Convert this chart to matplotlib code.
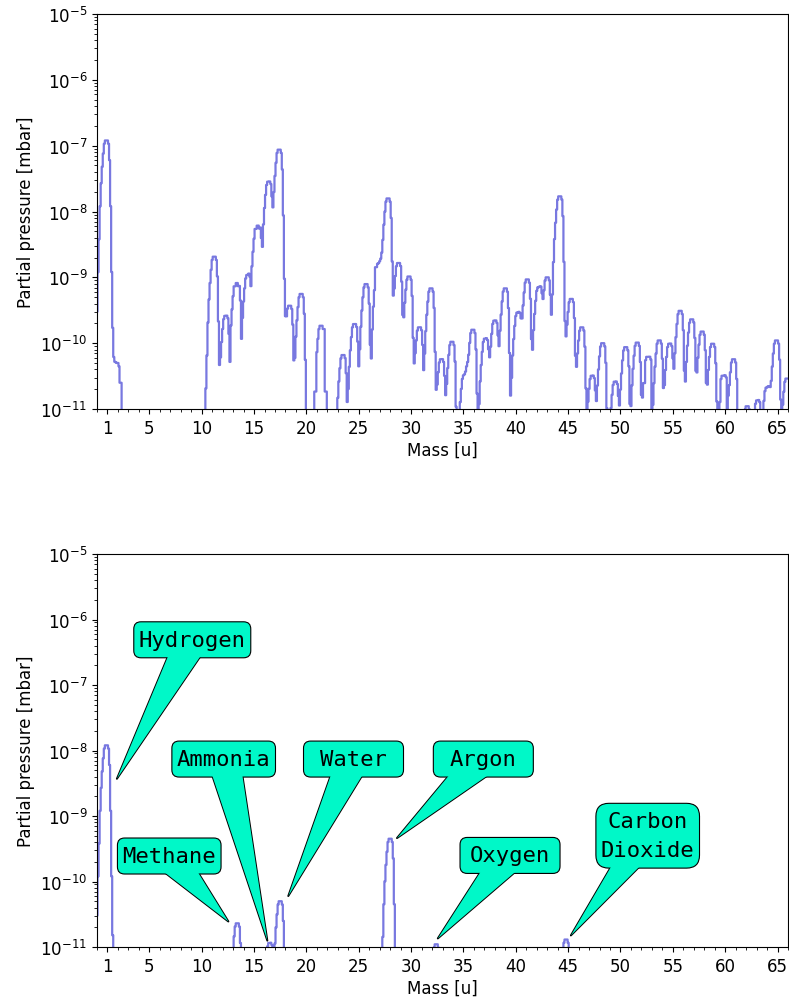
import numpy as np
import matplotlib
matplotlib.use("Agg")
import matplotlib.pyplot as plt
from matplotlib.ticker import FixedLocator, MultipleLocator, LogLocator, NullFormatter
from matplotlib.patches import FancyBboxPatch, FancyArrowPatch
from matplotlib.transforms import IdentityTransform

# ---------------- data ----------------
# survey scan: peak centre positions [u] and peak heights [mbar]
survey_centers = [0.9, 1.95, 11.2, 12.3, 13.35, 14.4, 15.35, 16.37, 17.4, 18.43,
                  19.5, 21.45, 23.5, 24.6, 25.67, 26.85, 27.8, 28.8, 29.8, 30.8,
                  31.86, 32.9, 33.9, 35.1, 35.9, 37.07, 38.0, 38.97, 40.17, 41.1,
                  42.24, 43.0, 44.24, 45.26, 46.3, 47.3, 48.3, 49.5, 50.5, 51.6,
                  52.65, 53.7, 54.7, 55.73, 56.8, 57.8, 58.8, 59.85, 60.8, 62.1,
                  63.1, 64.0, 64.9, 65.9]
survey_heights = [1.2e-7, 5e-11, 2.06e-9, 2.6e-10, 8.2e-10, 1.08e-9, 6.1e-9, 2.84e-8, 8.7e-8, 3.7e-10,
                  5.6e-10, 1.84e-10, 6.6e-11, 1.95e-10, 7.9e-10, 1.6e-9, 1.58e-8, 1.65e-9, 1.03e-9, 1.74e-10,
                  6.8e-10, 5.7e-11, 1.05e-10, 3.2e-11, 1.6e-10, 1.17e-10, 2.2e-10, 6.8e-10, 2.9e-10, 9.3e-10,
                  7e-10, 1e-9, 1.7e-8, 4.7e-10, 1.74e-10, 3.2e-11, 1.0e-10, 2.6e-11, 8.7e-11, 1.02e-10,
                  6.2e-11, 1.1e-10, 9.8e-11, 3.1e-10, 2.3e-10, 1.5e-10, 9.8e-11, 3.2e-11, 5.7e-11, 1.1e-11,
                  1.35e-11, 2.1e-11, 1.1e-10, 2.9e-11]

# identified gases
gas_names = ["Hydrogen", "Methane", "Ammonia", "Water", "Argon", "Oxygen", "Carbon\nDioxide"]
gas_centers = [0.9, 13.4, 16.5, 17.5, 28.0, 32.4, 44.8]
gas_heights = [1.2e-8, 2.3e-11, 1.15e-11, 5e-11, 4.5e-10, 1.1e-11, 1.3e-11]

# peak shape: log10 relative height at offsets -1.0 .. +0.9 u (0.1 u steps)
peak_profile_log = [-3.2, -2.6, -2.0, -1.5, -1.0, -0.65, -0.4, -0.2, -0.05, 0.0,
                    0.0, 0.0, -0.05, -0.3, -1.0, -2.0, -2.9, -3.6, -4.2, -5.0]
profile_zero_index = 10
scan_step = 0.1

mass_ticks = [1, 5, 10, 15, 20, 25, 30, 35, 40, 45, 50, 55, 60, 65]

# ---------------- build spectra ----------------
mass_grid = np.round(np.arange(0.0, 66.0 + 1e-9, scan_step), 1)


def spectrum(centers, heights):
    y = np.full(mass_grid.shape, 1e-15)
    prof = np.array(peak_profile_log)
    for c, h in zip(centers, heights):
        idx = np.rint((mass_grid - c) / scan_step).astype(int) + profile_zero_index
        ok = (idx >= 0) & (idx < len(prof))
        y[ok] += h * 10.0 ** prof[idx[ok]]
    return y


survey = spectrum(survey_centers, survey_heights)
gases = spectrum(gas_centers, gas_heights)

# ---------------- figure ----------------
W, H = 789, 1003
fig = plt.figure(figsize=(W / 100, H / 100), dpi=100)
line_color = "#7878e0"
box_fc = "#00f8c8"


def ax_rect(left, top, right, bottom):
    return [left / W, 1 - bottom / H, (right - left) / W, (bottom - top) / H]


ax1 = fig.add_axes(ax_rect(97, 15, 788, 410))
ax2 = fig.add_axes(ax_rect(97, 555, 788, 948))

for ax, y in ((ax1, survey), (ax2, gases)):
    ax.plot(mass_grid, y, drawstyle="steps-mid", color=line_color, lw=1.6)
    ax.set_yscale("log")
    ax.set_ylim(1e-11, 1e-5)
    ax.set_xlim(0, 66)
    ax.xaxis.set_major_locator(FixedLocator(mass_ticks))
    ax.xaxis.set_minor_locator(MultipleLocator(1))
    ax.yaxis.set_major_locator(LogLocator(base=10, numticks=20))
    ax.yaxis.set_minor_locator(LogLocator(base=10, subs=np.arange(2, 10), numticks=20))
    ax.yaxis.set_minor_formatter(NullFormatter())
    ax.tick_params(labelsize=12)
    ax.set_xlabel("Mass [u]", fontsize=12, labelpad=3)
    ax.set_ylabel("Partial pressure [mbar]", fontsize=12)

# annotations: label centre (data coords) and arrow tip (data coords)
label_pos = [(9.1, 4.9e-7), (6.9, 2.45e-10), (12.1, 7.4e-9), (24.5, 7.4e-9),
             (36.9, 7.4e-9), (39.45, 2.5e-10), (52.6, 5.0e-10)]
tip_pos = [(1.9, 3.7e-9), (12.55, 2.45e-11), (16.27, 1.25e-11), (18.27, 6.0e-11),
           (28.65, 4.6e-10), (32.55, 1.35e-11), (45.26, 1.5e-11)]

fig.canvas.draw()
renderer = fig.canvas.get_renderer()
ident = IdentityTransform()
hpad, vpad, min_w = 5, 8, 100
wedge = "wedge,tail_width=1.45"

for name, ctr, tip in zip(gas_names, label_pos, tip_pos):
    t = ax2.text(ctr[0], ctr[1], name, family="DejaVu Sans Mono", fontsize=16,
                 ha="center", va="center", linespacing=1.55, color="k", zorder=6)
    bb = t.get_window_extent(renderer)
    cx, cy = (bb.x0 + bb.x1) / 2, (bb.y0 + bb.y1) / 2
    w = max(bb.width + 2 * hpad, min_w)
    h = bb.height + 2 * vpad
    r = 0.2 * h
    tip_px = ax2.transData.transform(tip)
    # wedge outline (below the box)
    ax2.add_patch(FancyArrowPatch((cx, cy), tuple(tip_px), arrowstyle=wedge, mutation_scale=16,
                                  shrinkA=0, shrinkB=0, fc=box_fc, ec="k", lw=1.4,
                                  transform=ident, clip_on=False, zorder=3))
    # the box
    ax2.add_patch(FancyBboxPatch((cx - w / 2, cy - h / 2), w, h,
                                 boxstyle=f"round,pad=0,rounding_size={r:.1f}",
                                 fc=box_fc, ec="k", lw=0.8, transform=ident,
                                 clip_on=False, zorder=4))
    # wedge fill on top so it merges seamlessly into the box
    ax2.add_patch(FancyArrowPatch((cx, cy), tuple(tip_px), arrowstyle=wedge, mutation_scale=16,
                                  shrinkA=0, shrinkB=0, fc=box_fc, ec="none", lw=0,
                                  transform=ident, clip_on=False, zorder=5))

fig.savefig("out.png", dpi=100)
